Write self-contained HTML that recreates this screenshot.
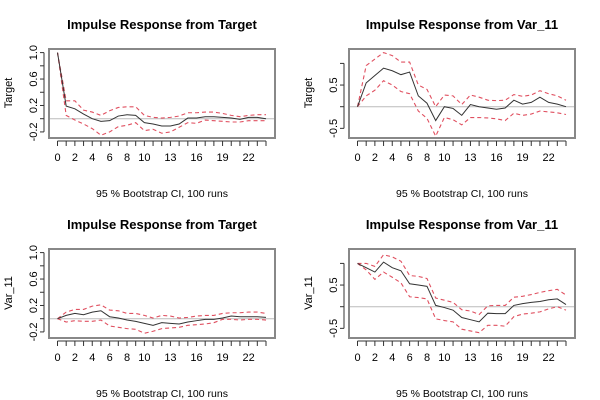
<!DOCTYPE html>
<html><head><meta charset="utf-8">
<style>
body{margin:0;background:#fff;}
svg{display:block;font-family:"Liberation Sans",Arial,sans-serif;}
</style></head>
<body>
<svg id="c" width="600" height="400" viewBox="0 0 600 400"></svg>
<script>
const periods = [0,1,2,3,4,5,6,7,8,9,10,11,12,13,14,15,16,17,18,19,20,21,22,23,24];
const xTickLabels = [0,2,4,6,8,10,13,16,19,22];
const p1Center=[1.0,0.19,0.15,0.07,0.0,-0.04,-0.03,0.04,0.06,0.05,-0.06,-0.08,-0.11,-0.11,-0.08,0.01,0.01,0.03,0.03,0.02,0.01,-0.01,0.02,0.02,0.0];
const p1Upper=[1.0,0.27,0.27,0.13,0.1,0.05,0.12,0.17,0.18,0.18,0.05,0.02,0.01,0.02,0.04,0.09,0.09,0.1,0.1,0.08,0.05,0.03,0.05,0.06,0.06];
const p1Lower=[1.0,0.05,-0.02,-0.08,-0.15,-0.25,-0.2,-0.12,-0.1,-0.06,-0.18,-0.16,-0.22,-0.2,-0.13,-0.06,-0.07,-0.02,-0.03,-0.04,-0.05,-0.05,-0.03,-0.03,-0.03];
const p2Center=[0,0.55,0.72,0.89,0.83,0.74,0.8,0.25,0.08,-0.32,0.0,-0.04,-0.2,0.05,0.0,-0.03,-0.06,-0.03,0.15,0.06,0.1,0.22,0.1,0.06,0.0];
const p2Upper=[0,0.95,1.1,1.25,1.18,1.03,1.03,0.5,0.4,0.0,0.27,0.25,0.05,0.27,0.22,0.15,0.14,0.15,0.28,0.24,0.27,0.37,0.3,0.25,0.15];
const p2Lower=[0,0.25,0.38,0.6,0.5,0.35,0.3,-0.1,-0.27,-0.68,-0.25,-0.3,-0.42,-0.25,-0.25,-0.26,-0.28,-0.32,-0.15,-0.2,-0.17,-0.1,-0.12,-0.14,-0.18];
const p3Center=[0,0.05,0.08,0.06,0.1,0.12,0.03,0.01,-0.02,-0.04,-0.07,-0.1,-0.06,-0.07,-0.08,-0.05,-0.03,-0.01,-0.01,0.01,0.04,0.03,0.03,0.03,0.02];
const p3Upper=[0,0.1,0.14,0.14,0.19,0.21,0.13,0.12,0.08,0.08,0.05,0.01,0.05,0.04,0.01,0.02,0.04,0.05,0.05,0.08,0.09,0.09,0.1,0.1,0.08];
const p3Lower=[0,-0.05,-0.03,-0.04,-0.04,-0.02,-0.11,-0.13,-0.15,-0.16,-0.22,-0.19,-0.15,-0.14,-0.13,-0.1,-0.09,-0.08,-0.06,-0.01,-0.01,-0.02,-0.01,-0.01,-0.02];
const p4Center=[1.0,0.9,0.8,1.03,0.9,0.83,0.53,0.5,0.47,0.03,-0.02,-0.08,-0.25,-0.3,-0.35,-0.15,-0.16,-0.16,0.03,0.07,0.1,0.12,0.16,0.18,0.05];
const p4Upper=[1.0,1.0,0.93,1.2,1.15,1.05,0.72,0.7,0.65,0.2,0.15,0.1,-0.07,-0.1,-0.18,0.02,0.03,0.03,0.22,0.24,0.28,0.33,0.37,0.4,0.27];
const p4Lower=[1.0,0.85,0.63,0.8,0.68,0.55,0.23,0.21,0.18,-0.28,-0.32,-0.35,-0.52,-0.56,-0.6,-0.43,-0.43,-0.45,-0.23,-0.17,-0.15,-0.12,-0.05,0.0,-0.08];
const ticksA=[-0.2,0,0.2,0.4,0.6,0.8,1.0], labelsA=[-0.2,0.2,0.6,1.0];
const ticksB=[-0.5,0,0.5,1.0], labelsB=[-0.5,0.5];

const svg=document.getElementById('c');
const NS='http://www.w3.org/2000/svg';
function mk(tag,attrs,parent){const e=document.createElementNS(NS,tag);for(const k in attrs)e.setAttribute(k,attrs[k]);parent.appendChild(e);return e;}

const panels=[
 {ox:0,oy:0,title:'Impulse Response from Target',ylab:'Target',c:p1Center,u:p1Upper,l:p1Lower,zero:118.7,ppu:66.1,ticks:ticksA,labels:labelsA},
 {ox:300,oy:0,title:'Impulse Response from Var_11',ylab:'Target',c:p2Center,u:p2Upper,l:p2Lower,zero:106.7,ppu:43.3,ticks:ticksB,labels:labelsB},
 {ox:0,oy:200,title:'Impulse Response from Target',ylab:'Var_11',c:p3Center,u:p3Upper,l:p3Lower,zero:118.7,ppu:66.1,ticks:ticksA,labels:labelsA},
 {ox:300,oy:200,title:'Impulse Response from Var_11',ylab:'Var_11',c:p4Center,u:p4Upper,l:p4Lower,zero:106.7,ppu:43.3,ticks:ticksB,labels:labelsB}
];
panels.forEach((p,i)=>{
 const g=mk('g',{transform:`translate(${p.ox},${p.oy})`},svg);
 
 
 const xs=v=>57.5+v*(266-57.5)/24;
 const ys=v=>p.zero-v*p.ppu;
 const t=mk('text',{x:162,y:29,'text-anchor':'middle','font-size':13,'font-weight':'bold',fill:'#000'},g);t.textContent=p.title;
 
 const yl=mk('text',{x:0,y:0,'text-anchor':'middle','font-size':11,fill:'#000',transform:`translate(12,93) rotate(-90)`},g);yl.textContent=p.ylab;
 
 const sub=mk('text',{x:162,y:197,'text-anchor':'middle','font-size':10.5,fill:'#000'},g);sub.textContent='95 % Bootstrap CI,  100 runs';
 
 const z=mk('line',{x1:49,x2:275,y1:ys(0),y2:ys(0),stroke:'#bbb','stroke-width':1},g);
 
 const ya=mk('g',{},g);
 mk('line',{x1:44,x2:44,y1:ys(p.ticks[0]),y2:ys(p.ticks[p.ticks.length-1]),stroke:'#333','stroke-width':1},ya);
 p.ticks.forEach(v=>mk('line',{x1:40,x2:44,y1:ys(v),y2:ys(v),stroke:'#333'},ya));
 p.labels.forEach(v=>{const tx=mk('text',{x:0,y:0,'text-anchor':'middle','font-size':11,fill:'#000',transform:`translate(37,${ys(v)}) rotate(-90)`},ya);tx.textContent=v.toFixed(1);
  });
 const xa=mk('g',{},g);
 mk('line',{x1:xs(0),x2:xs(24),y1:141,y2:141,stroke:'#333'},xa);
 periods.forEach(v=>mk('line',{x1:xs(v),x2:xs(v),y1:141,y2:146,stroke:'#333'},xa));
 xTickLabels.forEach(v=>{const tx=mk('text',{x:xs(v),y:161,'text-anchor':'middle','font-size':11,fill:'#000'},xa);tx.textContent=v;
  });
 const line=(arr,stroke,dash,w,name)=>{const e=mk('polyline',{points:arr.map((v,k)=>xs(periods[k])+','+ys(v)).join(' '),fill:'none',stroke:stroke,'stroke-width':w,'stroke-dasharray':dash},g);
  };
 line(p.u,'#e05060','4,3',1.1,'upper-ci-line');
 line(p.l,'#e05060','4,3',1.1,'lower-ci-line');
 line(p.c,'#333','none',1,'irf-line');
 const box=mk('rect',{x:49,y:49,width:226,height:89,fill:'none',stroke:'#888','stroke-width':2},g);
 
});
</script>
</body></html>
